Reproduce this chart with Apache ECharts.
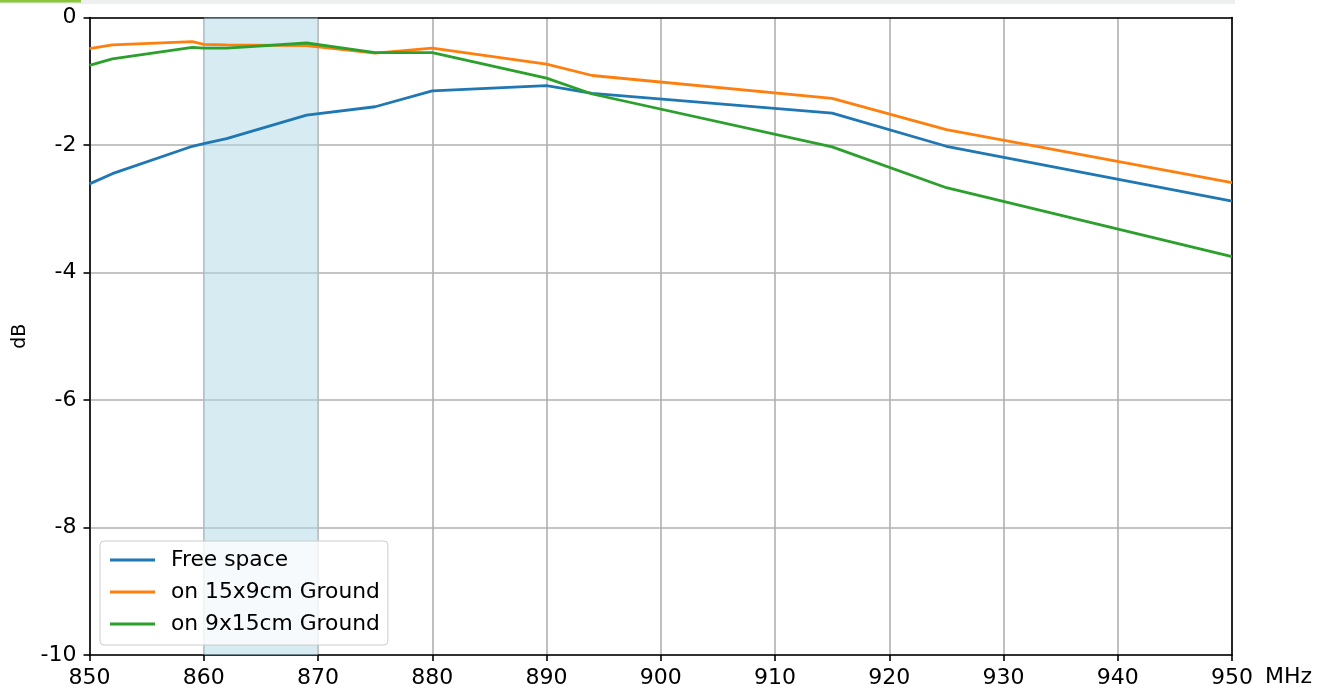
<!DOCTYPE html>
<html>
<head>
<meta charset="utf-8">
<script src="https://cdn.jsdelivr.net/npm/echarts@6/dist/echarts.min.js"></script>
<style>
html,body{margin:0;padding:0;background:#fff;}
#chart{width:1327px;height:693px;}
</style>
</head>
<body>
<div id="chart"></div>
<script>
// Frequency points (MHz)
var freq = [850, 852, 859, 860, 862, 869, 875, 880, 890, 894, 915, 925, 950];
// Series values (dB)
var freeSpace = [-2.61, -2.45, -2.02, -1.98, -1.90, -1.53, -1.40, -1.15, -1.07, -1.19, -1.50, -2.02, -2.88];
var ground15x9 = [-0.49, -0.43, -0.38, -0.42, -0.43, -0.44, -0.56, -0.48, -0.73, -0.91, -1.27, -1.76, -2.59];
var ground9x15 = [-0.75, -0.65, -0.47, -0.48, -0.48, -0.40, -0.55, -0.55, -0.95, -1.20, -2.03, -2.67, -3.75];
var seriesNames = ['Free space', 'on 15x9cm Ground', 'on 9x15cm Ground'];
var bandStart = 860, bandEnd = 870;
var xMin = 850, xMax = 950, xStep = 10;
var yMin = -10, yMax = 0, yStep = 2;

function pairs(vals) { return freq.map(function (f, i) { return [f, vals[i]]; }); }

var font = 'DejaVu Sans';
var chart = echarts.init(document.getElementById('chart'));
var colors = ['#1f77b4', '#ff7f0e', '#2ca02c'];
var data = [freeSpace, ground15x9, ground9x15];

var series = data.map(function (vals, i) {
  return {
    name: seriesNames[i],
    type: 'line',
    data: pairs(vals),
    symbol: 'none',
    lineStyle: { width: 2.8, color: colors[i] },
    itemStyle: { color: colors[i] },
    z: 3 + i,
    animation: false
  };
});
series[0].markArea = {
  silent: true,
  itemStyle: { color: 'rgba(173,216,230,0.5)' },
  data: [[{ xAxis: bandStart }, { xAxis: bandEnd }]]
};

var spine = { color: '#000', width: 1.6 };
var gridLine = { color: '#b0b0b0', width: 1.6 };

chart.setOption({
  animation: false,
  textStyle: { fontFamily: font },
  grid: { left: 89.5, right: 95, top: 17.5, bottom: 38 },
  graphic: [
    { type: 'rect', shape: { x: 0, y: 0, width: 1235, height: 4 }, style: { fill: '#eef0f0' }, z: 0 },
    { type: 'rect', shape: { x: 0, y: 0, width: 81, height: 2.5 }, style: { fill: '#8cc63f' }, z: 1 },
    { type: 'text', left: 1265, top: 666, style: { text: 'MHz', font: '22px "DejaVu Sans"', fill: '#000' } }
  ],
  legend: {
    orient: 'vertical',
    left: 100, top: 541,
    backgroundColor: 'rgba(255,255,255,0.8)',
    borderColor: '#cccccc', borderWidth: 1, borderRadius: 4,
    padding: [8, 8, 10, 10],
    itemGap: 10, itemWidth: 45, itemHeight: 2.8,
    icon: 'rect',
    textStyle: { fontSize: 21.8, fontFamily: font, color: '#000', padding: [0, 0, 0, 11] },
    data: seriesNames
  },
  xAxis: [{
    type: 'value', min: xMin, max: xMax, interval: xStep,
    axisLine: { onZero: false, lineStyle: spine },
    axisTick: { show: true, length: 6, lineStyle: spine },
    axisLabel: { fontSize: 22, color: '#000', fontFamily: font, margin: 12 },
    splitLine: { show: true, lineStyle: gridLine }
  }, {
    type: 'value', min: xMin, max: xMax, interval: xStep, position: 'top',
    axisLine: { show: true, onZero: false, lineStyle: spine },
    axisTick: { show: false }, axisLabel: { show: false }, splitLine: { show: false }
  }],
  yAxis: [{
    type: 'value', min: yMin, max: yMax, interval: yStep,
    name: 'dB', nameLocation: 'middle', nameGap: 58,
    nameTextStyle: { fontSize: 19, color: '#000', fontFamily: font },
    axisLine: { show: true, onZero: false, lineStyle: spine },
    axisTick: { show: true, length: 6, lineStyle: spine },
    axisLabel: { fontSize: 22, color: '#000', fontFamily: font, margin: 13 },
    splitLine: { show: true, lineStyle: gridLine }
  }, {
    type: 'value', min: yMin, max: yMax, interval: yStep, position: 'right',
    axisLine: { show: true, onZero: false, lineStyle: spine },
    axisTick: { show: false }, axisLabel: { show: false }, splitLine: { show: false }
  }],
  series: series
});
</script>
</body>
</html>
